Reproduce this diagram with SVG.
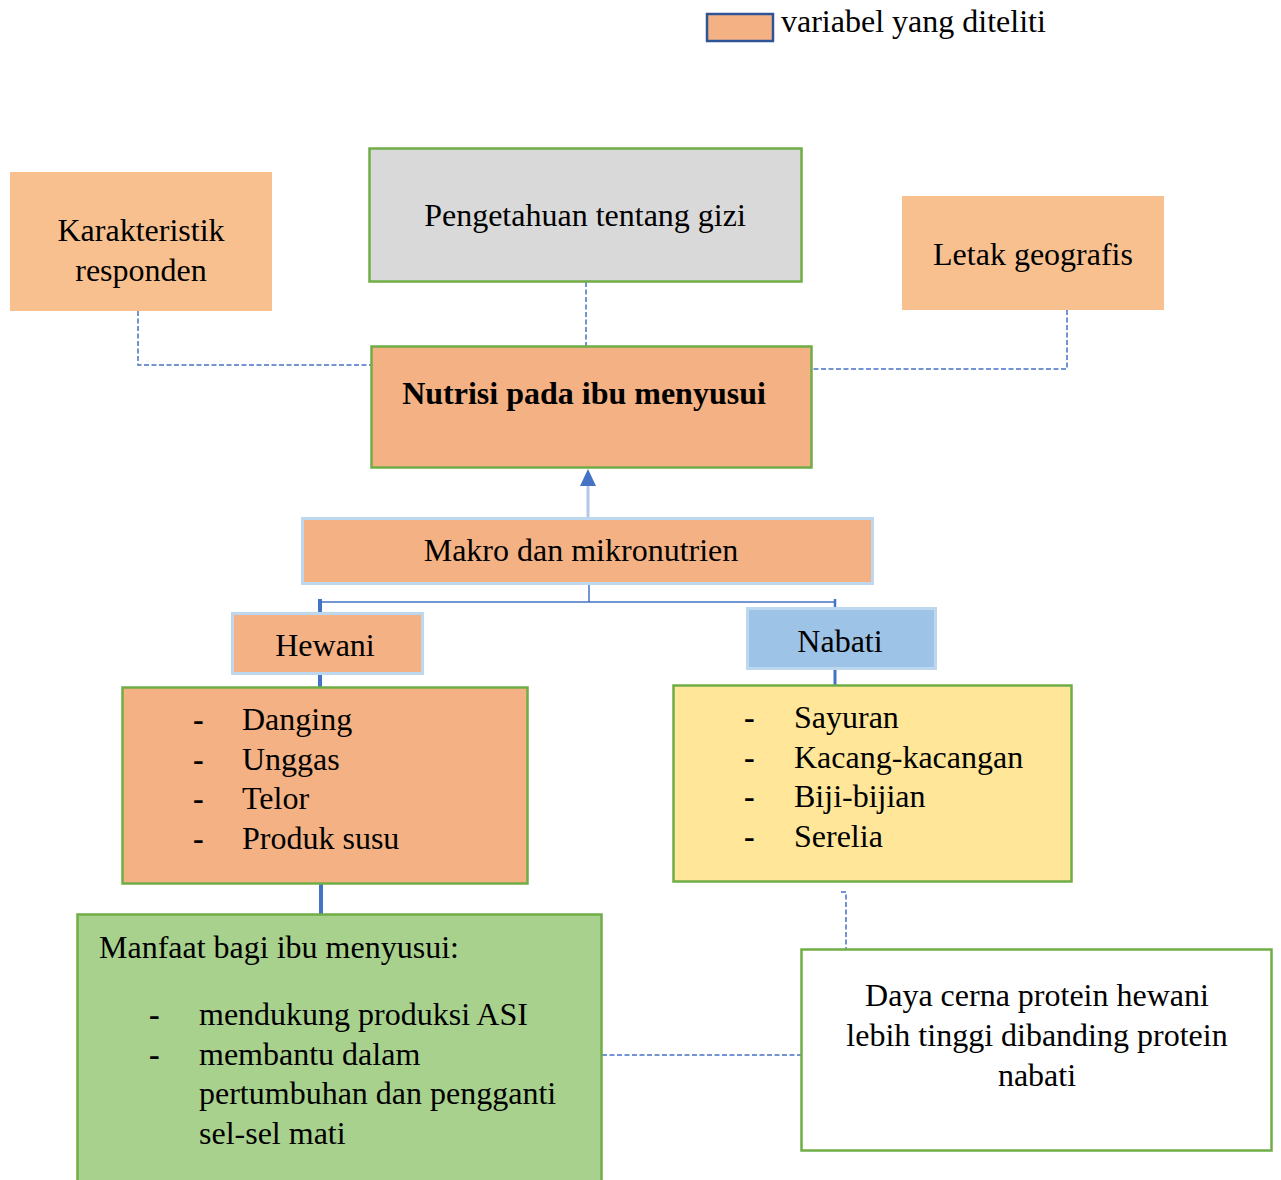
<svg xmlns="http://www.w3.org/2000/svg" width="1281" height="1180" viewBox="0 0 1281 1180">
<defs>
<style>
text{font-family:"Liberation Serif","Times New Roman",serif;font-size:32px;fill:#000}
.c{text-anchor:middle}
.b{font-weight:bold}
.dash{fill:none;stroke:#4472C4;stroke-width:1.5;stroke-dasharray:5 2.5}
.solid{fill:none;stroke:#4472C4}
.gb{stroke:#70AD47;stroke-width:2.5}
.lb{stroke:#BDD7EE;stroke-width:3}
</style>
</defs>
<rect width="1281" height="1180" fill="#fff"/>

<g id="legend">
<rect x="707" y="14" width="66" height="27" fill="#F4B183" stroke="#2F5597" stroke-width="2.5"/>
<text x="781" y="32">variabel yang diteliti</text>
</g>

<g id="connectors">
<polyline class="dash" points="138,311 138,365 371,365"/>
<polyline class="dash" points="586,282 586,346"/>
<polyline class="dash" points="1067,310 1067,369 812,369"/>
<line x1="588" y1="517" x2="588" y2="485" stroke="#B4C7E7" stroke-width="3"/>
<path d="M580,486 L588,469 L596,486 Z" fill="#4472C4"/>
<polyline class="solid" stroke-width="1.5" points="589,585 589,602"/>
<line class="solid" stroke-width="1.5" x1="320" y1="602" x2="835" y2="602"/>
<line class="solid" stroke-width="4" x1="320" y1="599" x2="320" y2="612"/>
<line class="solid" stroke-width="2.5" x1="835" y1="599" x2="835" y2="608"/>
<line class="solid" stroke-width="4" x1="320" y1="674" x2="320" y2="688"/>
<line class="solid" stroke-width="3" x1="835" y1="669" x2="835" y2="685"/>
<line class="solid" stroke-width="4" x1="321" y1="884" x2="321" y2="914"/>
<polyline class="dash" points="841,892 846,892 846,949"/>
<polyline class="dash" points="602,1055 801,1055"/>
</g>

<g id="karakteristik">
<rect x="10" y="172" width="262" height="139" fill="#F8C08F"/>
<text class="c" x="141" y="241">Karakteristik</text>
<text class="c" x="141" y="281">responden</text>
</g>

<g id="pengetahuan">
<rect class="gb" x="369.5" y="148.5" width="432" height="133" fill="#D9D9D9"/>
<text class="c" x="585" y="226">Pengetahuan tentang gizi</text>
</g>

<g id="letak">
<rect x="902" y="196" width="262" height="114" fill="#F8C08F"/>
<text class="c" x="1033" y="265">Letak geografis</text>
</g>

<g id="nutrisi">
<rect class="gb" x="371.5" y="346.5" width="440" height="121" fill="#F4B183"/>
<text class="c b" x="584" y="404">Nutrisi pada ibu menyusui</text>
</g>

<g id="makro">
<rect class="lb" x="302.5" y="518.5" width="570" height="65" fill="#F4B183"/>
<text class="c" x="581" y="561">Makro dan mikronutrien</text>
</g>

<g id="hewani">
<rect class="lb" x="232.5" y="613.5" width="190" height="60" fill="#F4B183"/>
<text class="c" x="325" y="656">Hewani</text>
</g>

<g id="nabati">
<rect class="lb" x="747.5" y="608.5" width="188" height="60" fill="#9DC3E6"/>
<text class="c" x="840" y="652">Nabati</text>
</g>

<g id="hewani-list">
<rect class="gb" x="122.5" y="687.5" width="405" height="196" fill="#F4B183"/>
<text class="b" x="193" y="730">-</text><text x="242" y="730">Danging</text>
<text class="b" x="193" y="770">-</text><text x="242" y="770">Unggas</text>
<text class="b" x="193" y="809">-</text><text x="242" y="809">Telor</text>
<text class="b" x="193" y="849">-</text><text x="242" y="849">Produk susu</text>
</g>

<g id="nabati-list">
<rect class="gb" x="673.5" y="685.5" width="398" height="196" fill="#FFE699"/>
<text class="b" x="744" y="728">-</text><text x="794" y="728">Sayuran</text>
<text class="b" x="744" y="768">-</text><text x="794" y="768">Kacang-kacangan</text>
<text class="b" x="744" y="807">-</text><text x="794" y="807">Biji-bijian</text>
<text class="b" x="744" y="847">-</text><text x="794" y="847">Serelia</text>
</g>

<g id="manfaat">
<rect class="gb" x="77.5" y="914.5" width="524" height="280" fill="#A9D18E"/>
<text x="99" y="958">Manfaat bagi ibu menyusui:</text>
<text class="b" x="149" y="1025">-</text><text x="199" y="1025">mendukung produksi ASI</text>
<text class="b" x="149" y="1065">-</text><text x="199" y="1065">membantu dalam</text>
<text x="199" y="1104">pertumbuhan dan pengganti</text>
<text x="199" y="1144">sel-sel mati</text>
</g>

<g id="daya-cerna">
<rect class="gb" x="801.5" y="949.5" width="470" height="201" fill="#fff"/>
<text class="c" x="1037" y="1006">Daya cerna protein hewani</text>
<text class="c" x="1037" y="1046">lebih tinggi dibanding protein</text>
<text class="c" x="1037" y="1086">nabati</text>
</g>
</svg>
